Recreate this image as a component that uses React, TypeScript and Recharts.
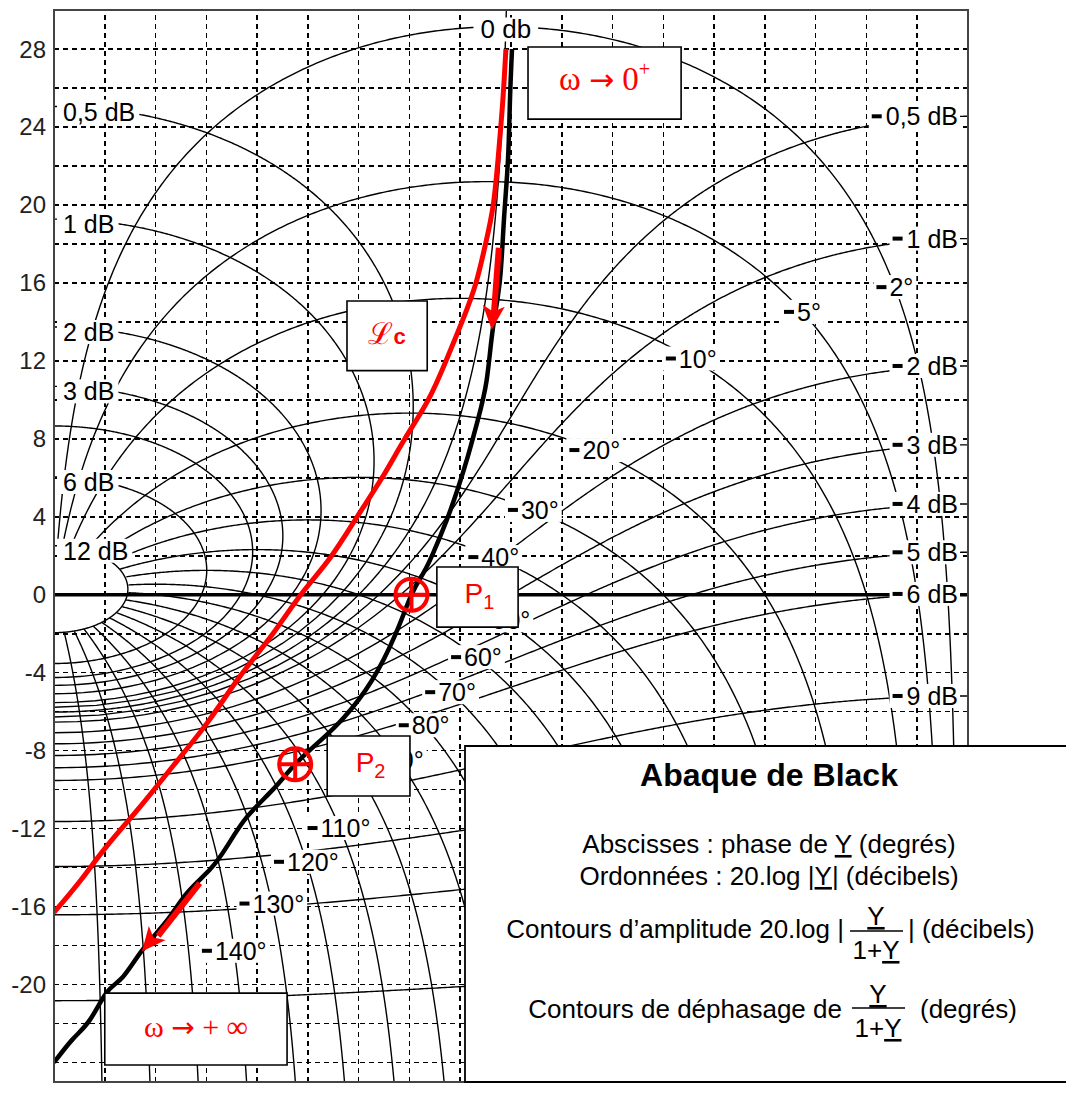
import React from 'react';
import { ComposedChart, Line, Scatter, XAxis, YAxis, ReferenceLine, ReferenceArea } from 'recharts';

const FONT = '"Liberation Sans", Arial, Helvetica, sans-serif';
const SERIF = '"Liberation Serif", "Times New Roman", "DejaVu Serif", serif';
const ARROWFONT = '"DejaVu Sans", sans-serif';
const RED = '#ff0000';

// ---------- curves (phase in degrees, gain in dB) ----------
const openLoopPhase = [-89.8, -90.2, -90.6, -91.4, -92.2, -93.6, -94.8, -96.5, -98.5, -100.4, -102.7, -105.4, -107.3, -109.6, -112.7, -117.4, -122.9, -127.6, -132.5, -136.9, -142.0, -145.9, -149.3, -153.8, -157.7, -162.5, -166.4, -169.6, -172.9, -176.3, -180];
const openLoopGain = [28.0, 25.4, 22.3, 19.2, 16.1, 13.6, 11.0, 9.0, 7.1, 5.5, 3.8, 2.1, 1.1, 0.0, -2.0, -4.4, -6.3, -7.5, -8.7, -10.0, -11.4, -12.9, -14.1, -15.3, -16.7, -18.2, -19.6, -20.4, -21.8, -22.8, -24.0];

const lcPhase = [-91.0, -91.6, -92.4, -93.5, -95.1, -96.9, -99.5, -102.8, -106.3, -110.9, -115.4, -120.3, -125.6, -131.4, -136.9, -143.4, -149.9, -156.6, -163.1, -169.6, -174.9, -180];
const lcGain = [28.0, 25.4, 22.8, 20.0, 17.9, 16.0, 14.1, 12.0, 10.0, 8.0, 6.0, 4.0, 1.9, 0.0, -2.0, -4.2, -6.6, -8.8, -10.9, -12.9, -14.7, -16.3];

// arrows (shaft start, shaft end, tip) and screen direction (style)
const arrowStartPhase = [-92.4, -151.3];
const arrowStartGain = [17.8, -14.8];
const arrowEndPhase = [-93.35, -159.5];
const arrowEndGain = [14.5, -17.5];
const arrowTipPhase = [-93.8, -162.7];
const arrowTipGain = [13.6, -18.3];
const arrowAngle = [95, 130];

// marked points
const pointNames = ['P1', 'P2'];
const pointPhase = [-109.6, -132.5];
const pointGain = [0, -8.7];

// annotation boxes (phase / gain corners)
const boxKinds = ['w0', 'lc', 'p1', 'p2', 'winf'];
const boxPhase1 = [-86.65, -122.3, -104.6, -126.2, -170.0];
const boxPhase2 = [-56.5, -106.5, -88.6, -109.9, -134.1];
const boxGain1 = [24.4, 11.5, -1.66, -10.33, -24.13];
const boxGain2 = [28.1, 15.07, 1.42, -7.25, -20.44];

// ---------- abaque levels ----------
const gainLevels = [12, 6, 4, 3, 2, 1, 0.5, 0, -0.5, -1, -2, -3, -4, -5, -6, -9, -12, -15, -20];
const phaseLevels = [-2, -5, -10, -20, -30, -40, -50, -60, -70, -80, -90, -100, -110, -120, -130, -140, -150, -160, -170];

const leftLabelLevels = [0.5, 1, 2, 3, 6, 12];
const leftLabelText = ['0,5 dB', '1 dB', '2 dB', '3 dB', '6 dB', '12 dB'];
const rightLabelLevels = [-0.5, -1, -2, -3, -4, -5, -6, -9];
const rightLabelText = ['0,5 dB', '1 dB', '2 dB', '3 dB', '4 dB', '5 dB', '6 dB', '9 dB'];
const phaseLabelLevels = [-2, -5, -10, -20, -30, -40, -50, -60, -70, -80, -90, -110, -120, -130, -140];
const phaseLabelAt = [-14.4, -32.6, -54.5, -73.5, -85.6, -93.4, -91.2, -96.8, -101.9, -107.1, -112.2, -123.7, -130.3, -137.1, -144.5];
const topLabelText = '0 db';
const topLabelGain = 29;

// ---------- axes ----------
const xTickText = ['-180', '-160', '-140', '-120', '-100', '-80', '-60', '-40', '-20', '0'];
const xTickSlot = [0, 1, 2, 3, 4, 5, 6, 7, 8, 11];
const yTicks = [28, 24, 20, 16, 12, 8, 4, 0, -4, -8, -12, -16, -20];
const gridPhases = [-170, -160, -150, -140, -130, -120, -110, -100, -90, -80, -70, -60, -50, -40, -30, -20, -10];
const gridGains = [-24, -22, -20, -18, -16, -14, -12, -10, -8, -6, -4, -2, 2, 4, 6, 8, 10, 12, 14, 16, 18, 20, 22, 24, 26, 28];
const X_MAX = 6.3;

// ---------- abaque geometry (built from levels) ----------
const D = Math.PI / 180;
const db = (v: number) => 20 * Math.log10(v);
const closedLoopDb = (phi: number, g: number) => {
  const re = g * Math.cos(phi * D);
  const im = g * Math.sin(phi * D);
  return db(g / Math.hypot(1 + re, im));
};
type P = { x: number; y: number };
const gainContour = (level: number): P[] => {
  const out: P[] = [];
  const M = Math.pow(10, level / 20);
  if (level === 0) {
    for (let i = 0; i <= 300; i++) {
      const a = (i / 300) * 89.6 * D;
      const t = 0.5 * Math.tan(a);
      out.push({ x: Math.atan2(-t, -0.5) / D, y: db(Math.hypot(0.5, t)) });
    }
    return out;
  }
  const c = -(M * M) / (M * M - 1);
  const r = M / Math.abs(M * M - 1);
  const n = 360;
  for (let i = 0; i <= n; i++) {
    const th = Math.PI + (Math.PI * i) / n;
    const re = c + r * Math.cos(th);
    const im = r * Math.sin(th);
    let ph = Math.atan2(im, re) / D;
    if (ph > 1e-9) ph -= 360;
    out.push({ x: ph, y: db(Math.hypot(re, im)) });
  }
  return out;
};
const phaseGain = (psi: number, phi: number) => Math.sin((phi - psi) * D) / Math.sin(psi * D);
const phaseContour = (psi: number): P[] => {
  const out: P[] = [];
  const n = 420;
  for (let i = 0; i <= n; i++) {
    const s = 0.5 - 0.5 * Math.cos((Math.PI * i) / n);
    const phi = -180 + (psi + 180) * s;
    const g = phaseGain(psi, phi);
    if (!(g > 1e-4)) {
      out.push({ x: psi, y: -60 });
      continue;
    }
    if (closedLoopDb(phi, g) > 12.01) continue;
    out.push({ x: phi, y: Math.max(db(g), -60) });
  }
  return out;
};

const gainContours = gainLevels.map((l) => gainContour(l));
const phaseContours = phaseLevels.map((p) => phaseContour(p));

const openLoopData = openLoopPhase.map((x, i) => ({ x, y: openLoopGain[i] }));
const lcData = lcPhase.map((x, i) => ({ x, y: lcGain[i] }));
const arrowShafts = arrowStartPhase.map((x, i) => [
  { x, y: arrowStartGain[i] },
  { x: arrowEndPhase[i], y: arrowEndGain[i] },
]);
const arrowHeads = arrowTipPhase.map((x, i) => ({ x, y: arrowTipGain[i], angle: arrowAngle[i] }));
const pointData = pointNames.map((name, i) => ({ x: pointPhase[i], y: pointGain[i], name }));

const labelTable = [
  ...leftLabelLevels.map((l, i) => {
    const M = Math.pow(10, l / 20);
    return { x: -180, y: db(M / (M - 1)), text: leftLabelText[i], kind: 'left' };
  }),
  ...rightLabelLevels.map((l, i) => {
    const M = Math.pow(10, l / 20);
    return { x: 0, y: db(M / (1 - M)), text: rightLabelText[i], kind: 'right' };
  }),
  ...phaseLabelLevels.map((psi, i) => ({
    x: phaseLabelAt[i],
    y: db(phaseGain(psi, phaseLabelAt[i])),
    text: `${Math.abs(psi)}°`,
    kind: 'phase',
  })),
  {
    x: -Math.acos(-1 / (2 * Math.pow(10, topLabelGain / 20))) / D,
    y: topLabelGain,
    text: topLabelText,
    kind: 'top',
  },
];

// ---------- drawing helpers ----------
const CW: Record<string, number> = { ' ': 0.278, ',': 0.278, '.': 0.278, d: 0.556, b: 0.556, B: 0.667, '°': 0.4, '-': 0.333 };
const textW = (s: string, fs: number) => {
  let w = 0;
  for (const ch of s) w += CW[ch] ?? 0.556;
  return w * fs;
};

const LabelShape = (p: any) => {
  const { cx, cy, payload } = p;
  if (cx == null || cy == null) return null;
  const fs = 25;
  const t: string = payload.text;
  const w = textW(t, fs);
  if (payload.kind === 'phase') {
    const W = 10 + 3 + w;
    const x0 = cx - W / 2;
    return (
      <g>
        <rect x={x0 - 3} y={cy - 12} width={W + 6} height={24} fill="#fff" />
        <rect x={x0} y={cy - 2} width={10} height={4} fill="#000" />
        <text x={x0 + 13} y={cy + 9} fontSize={fs} fontFamily={FONT} fill="#000">{t}</text>
      </g>
    );
  }
  if (payload.kind === 'right') {
    const xe = cx - 10;
    const W = 10 + 4 + w;
    const x0 = xe - W;
    return (
      <g>
        <rect x={x0 - 3} y={cy - 12} width={W + 5} height={24} fill="#fff" />
        <rect x={x0} y={cy - 2} width={10} height={4} fill="#000" />
        <text x={x0 + 14} y={cy + 9} fontSize={fs} fontFamily={FONT} fill="#000">{t}</text>
      </g>
    );
  }
  if (payload.kind === 'left') {
    const yc = cy + 5;
    return (
      <g>
        <rect x={cx + 3} y={yc - 12} width={w + 10} height={24} fill="#fff" />
        <text x={cx + 9} y={yc + 9} fontSize={fs} fontFamily={FONT} fill="#000">{t}</text>
      </g>
    );
  }
  return (
    <g>
      <rect x={cx - w / 2 - 8} y={cy - 12} width={w + 16} height={24} fill="#fff" />
      <text x={cx} y={cy + 9} fontSize={26} fontFamily={FONT} fill="#000" textAnchor="middle">{t}</text>
    </g>
  );
};

const MarkerShape = (p: any) => {
  const { cx, cy } = p;
  if (cx == null || cy == null) return null;
  const r = 16;
  return (
    <g stroke={RED} strokeWidth={4} fill="none">
      <circle cx={cx} cy={cy} r={r} />
      <line x1={cx - r} y1={cy} x2={cx + r} y2={cy} />
      <line x1={cx} y1={cy - r} x2={cx} y2={cy + r} />
    </g>
  );
};

const ArrowHeadShape = (p: any) => {
  const { cx, cy, payload } = p;
  if (cx == null || cy == null) return null;
  const a = (payload.angle * Math.PI) / 180;
  const L = 24;
  const H = 11;
  const bx = cx - L * Math.cos(a);
  const by = cy - L * Math.sin(a);
  const px = -Math.sin(a);
  const py = Math.cos(a);
  const pts = `${cx},${cy} ${bx + H * px},${by + H * py} ${bx + 6 * Math.cos(a)},${by + 6 * Math.sin(a)} ${bx - H * px},${by - H * py}`;
  return <polygon points={pts} fill={RED} />;
};

const boxContent = (kind: string) => (props: any) => {
  const vb = props.viewBox || {};
  const cx = vb.x + vb.width / 2;
  const cy = vb.y + vb.height / 2;
  if (kind === 'w0') {
    return (
      <text x={cx} y={cy + 7} textAnchor="middle" fontFamily={SERIF} fontSize={33} fill={RED}>
        ω <tspan fontFamily={ARROWFONT} fontSize={30}>→</tspan> 0<tspan fontSize={20} dy={-14}>+</tspan>
      </text>
    );
  }
  if (kind === 'winf') {
    return (
      <text x={cx} y={cy + 8} textAnchor="middle" fontFamily={SERIF} fontSize={30} fill={RED}>
        ω <tspan fontFamily={ARROWFONT} fontSize={28}>→</tspan> + ∞
      </text>
    );
  }
  if (kind === 'lc') {
    return (
      <text x={cx} y={cy + 8} textAnchor="middle" fontFamily={'"DejaVu Serif", serif'} fontSize={30} fill={RED}>
        ℒ<tspan fontSize={22} fontWeight="bold" fontFamily={FONT}>c</tspan>
      </text>
    );
  }
  const sub = kind === 'p1' ? '1' : '2';
  return (
    <text x={cx + 2} y={cy + 6} textAnchor="middle" fontFamily={FONT} fontSize={28} fill={RED}>
      P<tspan fontSize={20} dy={6}>{sub}</tspan>
    </text>
  );
};

const legendContent = (props: any) => {
  const vb = props.viewBox || {};
  const x0 = vb.x;
  const y0 = vb.y;
  const cx = x0 + 304;
  const u = { textDecoration: 'underline' } as React.CSSProperties;
  const f1 = x0 + 411;
  const f2 = x0 + 413;
  return (
    <g fontFamily={FONT} fill="#000">
      <text x={cx} y={y0 + 40} textAnchor="middle" fontSize={32} fontWeight="bold">Abaque de Black</text>
      <text x={cx} y={y0 + 107} textAnchor="middle" fontSize={26}>
        Abscisses : phase de <tspan style={u}>Y</tspan> (degrés)
      </text>
      <text x={cx} y={y0 + 139} textAnchor="middle" fontSize={26}>
        Ordonnées : 20.log |<tspan style={u}>Y</tspan>| (décibels)
      </text>
      <text x={x0 + 379} y={y0 + 192} textAnchor="end" fontSize={26}>Contours d’amplitude 20.log |</text>
      <text x={f1} y={y0 + 179} textAnchor="middle" fontSize={26} style={u}>Y</text>
      <line x1={f1 - 26} y1={y0 + 185} x2={f1 + 27} y2={y0 + 185} stroke="#000" strokeWidth={1.5} />
      <text x={f1} y={y0 + 213} textAnchor="middle" fontSize={26}>1+<tspan style={u}>Y</tspan></text>
      <text x={x0 + 443} y={y0 + 192} fontSize={26}>| (décibels)</text>
      <text x={x0 + 377} y={y0 + 272} textAnchor="end" fontSize={26}>Contours de déphasage de</text>
      <text x={f2} y={y0 + 257} textAnchor="middle" fontSize={26} style={u}>Y</text>
      <line x1={f2 - 26} y1={y0 + 262} x2={f2 + 27} y2={y0 + 262} stroke="#000" strokeWidth={1.5} />
      <text x={f2} y={y0 + 291} textAnchor="middle" fontSize={26}>1+<tspan style={u}>Y</tspan></text>
      <text x={x0 + 455} y={y0 + 272} fontSize={26}>(degrés)</text>
    </g>
  );
};

const tickFont = { fontSize: 24, fill: '#222', fontFamily: FONT };

export default function App() {
  return (
    <div style={{ position: 'absolute', left: 0, top: 0, width: 1066, height: 1115, background: '#fff' }}>
      <ComposedChart width={1066} height={1115} margin={{ top: 10, right: 66, bottom: 0, left: 0 }}>
        <XAxis xAxisId="main" dataKey="x" type="number" domain={[-180, X_MAX]} allowDataOverflow hide />
        <XAxis
          xAxisId="lbl"
          type="number"
          domain={[0, 11]}
          ticks={xTickSlot}
          interval={0}
          tickFormatter={(v: number) => xTickText[xTickSlot.indexOf(v)] ?? ''}
          axisLine={false}
          tickLine={false}
          tickMargin={7}
          height={33}
          tick={tickFont}
          allowDataOverflow
        />
        <YAxis
          dataKey="y"
          type="number"
          domain={[-25, 30]}
          ticks={yTicks}
          interval={0}
          allowDataOverflow
          axisLine={false}
          tickLine={false}
          width={54}
          tick={tickFont}
        />

        {gridPhases.map((v) => (
          <ReferenceLine key={'gx' + v} xAxisId="main" x={v} stroke="#000" strokeWidth={1.6} strokeDasharray="5 4" shapeRendering="crispEdges" zIndex={50} />
        ))}
        {gridGains.map((v) => (
          <ReferenceLine
            key={'gy' + v}
            xAxisId="main"
            segment={[{ x: -180, y: v }, { x: 0, y: v }]}
            stroke="#000"
            strokeWidth={1.6}
            strokeDasharray="5 4"
            shapeRendering="crispEdges"
            zIndex={50}
          />
        ))}

        {gainContours.map((pts, i) => (
          <Line key={'m' + i} xAxisId="main" data={pts} dataKey="y" type="linear" stroke="#000" strokeWidth={1.4} dot={false} activeDot={false} isAnimationActive={false} zIndex={300} />
        ))}
        {phaseContours.map((pts, i) => (
          <Line key={'n' + i} xAxisId="main" data={pts} dataKey="y" type="linear" stroke="#000" strokeWidth={1.4} dot={false} activeDot={false} isAnimationActive={false} zIndex={300} />
        ))}

        <ReferenceLine xAxisId="main" segment={[{ x: -180, y: 0 }, { x: 0, y: 0 }]} stroke="#000" strokeWidth={3.5} zIndex={350} />

        <Scatter xAxisId="main" data={labelTable} shape={LabelShape} isAnimationActive={false} zIndex={600} />

        <Line xAxisId="main" data={openLoopData} dataKey="y" type="natural" stroke="#000" strokeWidth={4.5} dot={false} activeDot={false} isAnimationActive={false} zIndex={700} />
        <Line xAxisId="main" data={lcData} dataKey="y" type="natural" stroke={RED} strokeWidth={5} dot={false} activeDot={false} isAnimationActive={false} zIndex={700} />
        {arrowShafts.map((pts, i) => (
          <Line key={'a' + i} xAxisId="main" data={pts} dataKey="y" type="linear" stroke={RED} strokeWidth={6} dot={false} activeDot={false} isAnimationActive={false} zIndex={710} />
        ))}
        <Scatter xAxisId="main" data={arrowHeads} shape={ArrowHeadShape} isAnimationActive={false} zIndex={800} />
        <Scatter xAxisId="main" data={pointData} shape={MarkerShape} isAnimationActive={false} zIndex={800} />

        <ReferenceArea xAxisId="main" x1={-180} x2={0} y1={-25} y2={30} fill="none" stroke="#444" strokeWidth={2} ifOverflow="visible" zIndex={1000} />

        {boxKinds.map((k, i) => (
          <ReferenceArea
            key={'b' + k}
            xAxisId="main"
            x1={boxPhase1[i]}
            x2={boxPhase2[i]}
            y1={boxGain1[i]}
            y2={boxGain2[i]}
            fill="#fff"
            fillOpacity={1}
            stroke="#000"
            strokeWidth={1.6}
            ifOverflow="visible"
            zIndex={1600}
            label={boxContent(k)}
          />
        ))}
        <ReferenceArea
          xAxisId="main"
          x1={-99.06}
          x2={20}
          y1={-25}
          y2={-7.76}
          fill="#fff"
          fillOpacity={1}
          stroke="#000"
          strokeWidth={1.8}
          ifOverflow="visible"
          zIndex={1700}
          label={legendContent}
        />
      </ComposedChart>
    </div>
  );
}
